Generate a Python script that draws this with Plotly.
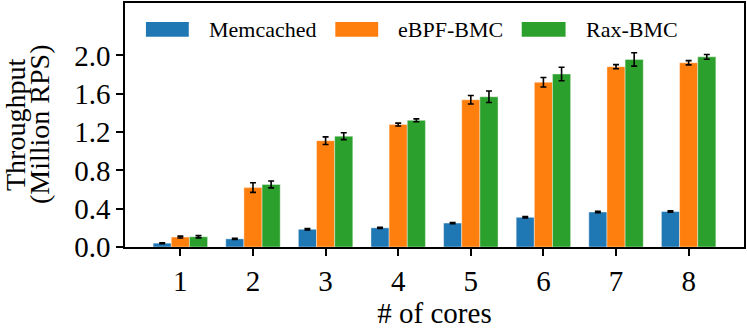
import plotly.graph_objects as go

cores = [1, 2, 3, 4, 5, 6, 7, 8]
series_names = ["Memcached", "eBPF-BMC", "Rax-BMC"]
memcached = [0.04, 0.085, 0.185, 0.20, 0.25, 0.31, 0.365, 0.37]
memcached_err = [0.005, 0.005, 0.007, 0.006, 0.006, 0.008, 0.007, 0.007]
ebpf = [0.104, 0.62, 1.11, 1.278, 1.537, 1.72, 1.882, 1.923]
ebpf_err = [0.01, 0.05, 0.04, 0.015, 0.045, 0.05, 0.022, 0.022]
rax = [0.107, 0.653, 1.157, 1.322, 1.568, 1.806, 1.958, 1.985]
rax_err = [0.012, 0.036, 0.036, 0.015, 0.06, 0.07, 0.07, 0.025]
colors = ["#1f77b4", "#ff7f0e", "#2ca02c"]
y_ticks = [0.0, 0.4, 0.8, 1.2, 1.6, 2.0]

FONT = "Times New Roman, Liberation Serif, Times, serif"

fig = go.Figure()
for name, vals, errs, c in zip(series_names, [memcached, ebpf, rax],
                               [memcached_err, ebpf_err, rax_err], colors):
    fig.add_trace(go.Bar(
        x=cores, y=vals, name=name,
        marker=dict(color=c, line=dict(color="rgba(255,255,255,0.5)", width=0.8)),
        error_y=dict(type="data", array=errs, visible=True, color="black",
                     thickness=1.6, width=3),
        showlegend=False,
    ))

W, H = 747, 332
ml, mr, mt, mb = 125, 1, 2, 85
pw, ph = W - ml - mr, H - mt - mb

def px_x(p):
    return (p - ml) / pw

def px_y(p):
    return (H - mb - p) / ph

shapes = []
annotations = []
legend_items = [
    (146, 189, 207, "Memcached"),
    (336, 379, 397, "eBPF-BMC"),
    (523, 567, 585, "Rax-BMC"),
]
for (x0, x1, tx, label), c in zip(legend_items, colors):
    shapes.append(dict(type="rect", xref="paper", yref="paper",
                       x0=px_x(x0), x1=px_x(x1), y0=px_y(36), y1=px_y(21),
                       fillcolor=c, line=dict(width=0)))
    annotations.append(dict(xref="paper", yref="paper", x=px_x(tx), y=px_y(29),
                            xanchor="left", yanchor="middle", text=label,
                            showarrow=False,
                            font=dict(family=FONT, size=22, color="black")))

annotations.append(dict(xref="paper", yref="paper", x=0, y=0.5, xshift=-110,
                        xanchor="center", yanchor="middle", text="Throughput",
                        textangle=-90, showarrow=False,
                        font=dict(family=FONT, size=28, color="black")))
annotations.append(dict(xref="paper", yref="paper", x=0, y=0.5, xshift=-86,
                        xanchor="center", yanchor="middle", text="(Million RPS)",
                        textangle=-90, showarrow=False,
                        font=dict(family=FONT, size=28, color="black")))

fig.update_layout(
    width=W, height=H,
    margin=dict(l=ml, r=mr, t=mt, b=mb),
    barmode="group", bargap=0.25, bargroupgap=0,
    plot_bgcolor="white", paper_bgcolor="white",
    font=dict(family=FONT, size=29, color="black"),
    shapes=shapes, annotations=annotations,
    xaxis=dict(
        range=[0.2375, 8.7625], tickmode="array", tickvals=cores,
        ticktext=[str(c) for c in cores],
        showline=True, linecolor="black", linewidth=1.6, mirror=True,
        ticks="outside", ticklen=7, tickwidth=1.6, tickcolor="black",
        showgrid=False, zeroline=False,
        title=dict(text="# of cores", font=dict(family=FONT, size=29), standoff=4),
        tickfont=dict(family=FONT, size=29),
    ),
    yaxis=dict(
        range=[0, 2.547], tickmode="array", tickvals=y_ticks,
        ticktext=[f"{v:.1f}" for v in y_ticks],
        showline=True, linecolor="black", linewidth=1.6, mirror=True,
        ticks="outside", ticklen=7, tickwidth=1.6, tickcolor="black",
        showgrid=False, zeroline=False,
        tickfont=dict(family=FONT, size=29),
    ),
)

fig.write_html("out.html", config={"displayModeBar": False},
               post_script="document.body.style.margin='0';")
